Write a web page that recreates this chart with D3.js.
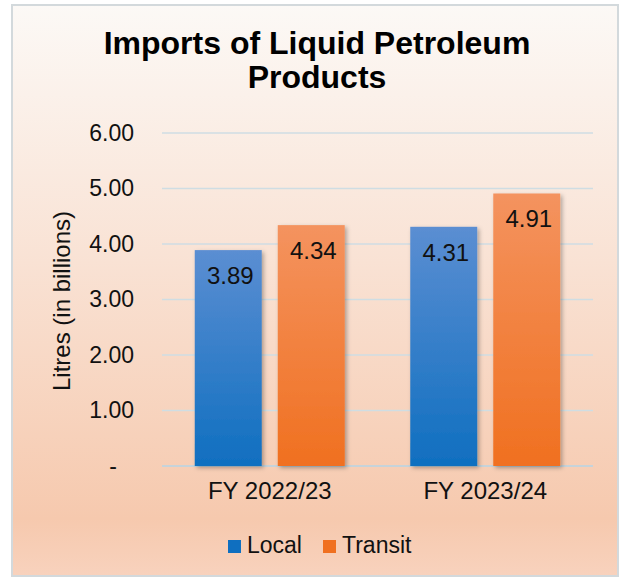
<!DOCTYPE html>
<html>
<head>
<meta charset="utf-8">
<script src="https://cdn.jsdelivr.net/npm/d3@7"></script>
<style>
  body { margin: 0; background: #fff; }
  text { font-family: "Liberation Sans", Arial, sans-serif; }
</style>
</head>
<body>
<div id="chart-area"></div>
<script>
const categories = ["FY 2022/23", "FY 2023/24"];
const seriesNames = ["Local", "Transit"];
const localValues = [3.89, 4.31];
const transitValues = [4.34, 4.91];
const yTicks = [0, 1, 2, 3, 4, 5, 6];

const W = 626, H = 581;
const margin = { left: 162, right: 33, top: 133, bottom: 115 },
    width = W - margin.left - margin.right,
    height = H - margin.top - margin.bottom;

const svg = d3.select("#chart-area").append("svg")
    .attr("width", W).attr("height", H);

const defs = svg.append("defs");
const bg = defs.append("linearGradient").attr("id", "bg")
    .attr("x1", 0).attr("y1", 0).attr("x2", 0).attr("y2", 1);
bg.append("stop").attr("offset", "0%").attr("stop-color", "#fcf9f6");
bg.append("stop").attr("offset", "45%").attr("stop-color", "#f9e2d4");
bg.append("stop").attr("offset", "90%").attr("stop-color", "#f6c9ae");
bg.append("stop").attr("offset", "100%").attr("stop-color", "#f8d2bd");

const gradColors = {
    Local: ["#5b8ed2", "#0f6fc0"],
    Transit: ["#f4935f", "#f07020"]
};
seriesNames.forEach(function (s) {
    const lg = defs.append("linearGradient").attr("id", "g" + s)
        .attr("x1", 0).attr("y1", 0).attr("x2", 0).attr("y2", 1);
    lg.append("stop").attr("offset", "0%").attr("stop-color", gradColors[s][0]);
    lg.append("stop").attr("offset", "100%").attr("stop-color", gradColors[s][1]);
});
const shadow = defs.append("filter").attr("id", "shadow")
    .attr("x", "-20%").attr("y", "-20%").attr("width", "140%").attr("height", "140%");
shadow.append("feDropShadow").attr("dx", 2).attr("dy", 2)
    .attr("stdDeviation", 2).attr("flood-color", "#000").attr("flood-opacity", 0.3);

// chart frame
svg.append("rect")
    .attr("x", 12).attr("y", 5).attr("width", 606).attr("height", 571)
    .attr("fill", "url(#bg)").attr("stroke", "#d3d9dc").attr("stroke-width", 2);

// title
svg.append("text").attr("x", 317).attr("y", 54)
    .attr("text-anchor", "middle").attr("font-size", "32px").attr("font-weight", "bold")
    .text("Imports of Liquid Petroleum");
svg.append("text").attr("x", 317).attr("y", 88)
    .attr("text-anchor", "middle").attr("font-size", "32px").attr("font-weight", "bold")
    .text("Products");

const g = svg.append("g")
    .attr("transform", `translate(${margin.left}, ${margin.top})`);

const x0 = d3.scaleBand().domain(categories).range([0, width])
    .paddingInner(0.304).paddingOuter(0.152);
const x1 = d3.scaleBand().domain(seriesNames).range([0, x0.bandwidth()])
    .paddingInner(0.193).paddingOuter(0);
const y = d3.scaleLinear().domain([0, 6]).range([height, 0]);

// gridlines
g.selectAll(".grid").data(yTicks).enter().append("line")
    .attr("x1", 0).attr("x2", width)
    .attr("y1", d => y(d)).attr("y2", d => y(d))
    .attr("stroke", d => d === 0 ? "#c6d3da" : "#cfdde3")
    .attr("stroke-width", d => d === 0 ? 2 : 1.5);

// y axis labels (accounting style: zero shown as a dash)
const yAxis = g.append("g").call(d3.axisLeft(y).tickValues(yTicks)
    .tickFormat(d => d === 0 ? "-" : d3.format(".2f")(d)).tickSize(0).tickPadding(28));
yAxis.select(".domain").remove();
yAxis.selectAll("text").attr("font-size", "23px").attr("fill", "#111")
    .style("font-family", "Liberation Sans, Arial, sans-serif")
    .attr("dx", d => d === 0 ? -17 : 0);

// x axis labels
const xAxis = g.append("g").attr("transform", `translate(0,${height})`)
    .call(d3.axisBottom(x0).tickSize(0).tickPadding(16));
xAxis.select(".domain").remove();
xAxis.selectAll("text").attr("font-size", "24px").attr("fill", "#111")
    .style("font-family", "Liberation Sans, Arial, sans-serif");

// y axis title
svg.append("text")
    .attr("transform", "translate(70,301) rotate(-90)")
    .attr("text-anchor", "middle").attr("font-size", "24px").attr("fill", "#111")
    .text("Litres (in billions)");

const rows = categories.map((c, i) => ({
    cat: c,
    vals: [{ s: "Local", v: localValues[i] }, { s: "Transit", v: transitValues[i] }]
}));

const groups = g.selectAll(".grp").data(rows).enter().append("g")
    .attr("transform", d => `translate(${x0(d.cat)},0)`);

groups.selectAll("rect").data(d => d.vals).enter().append("rect")
    .attr("x", d => x1(d.s)).attr("width", x1.bandwidth())
    .attr("y", d => y(d.v)).attr("height", d => height - y(d.v))
    .attr("fill", d => "url(#g" + d.s + ")")
    .attr("filter", "url(#shadow)");

groups.selectAll(".lbl").data(d => d.vals).enter().append("text")
    .attr("x", d => x1(d.s) + x1.bandwidth() / 2 + 2)
    .attr("y", d => y(d.v) + 34)
    .attr("text-anchor", "middle").attr("font-size", "24px").attr("fill", "#111")
    .text(d => d3.format(".2f")(d.v));

// legend
const legend = svg.append("g").attr("transform", "translate(228,553)");
const legX = [0, 95];
seriesNames.forEach(function (s, i) {
    const lg = legend.append("g").attr("transform", `translate(${legX[i]},0)`);
    lg.append("rect").attr("x", 0).attr("y", -13).attr("width", 13).attr("height", 13)
        .attr("fill", gradColors[s][1]);
    lg.append("text").attr("x", 19).attr("y", 0).attr("font-size", "23px").attr("fill", "#111")
        .text(s);
});
</script>
</body>
</html>
